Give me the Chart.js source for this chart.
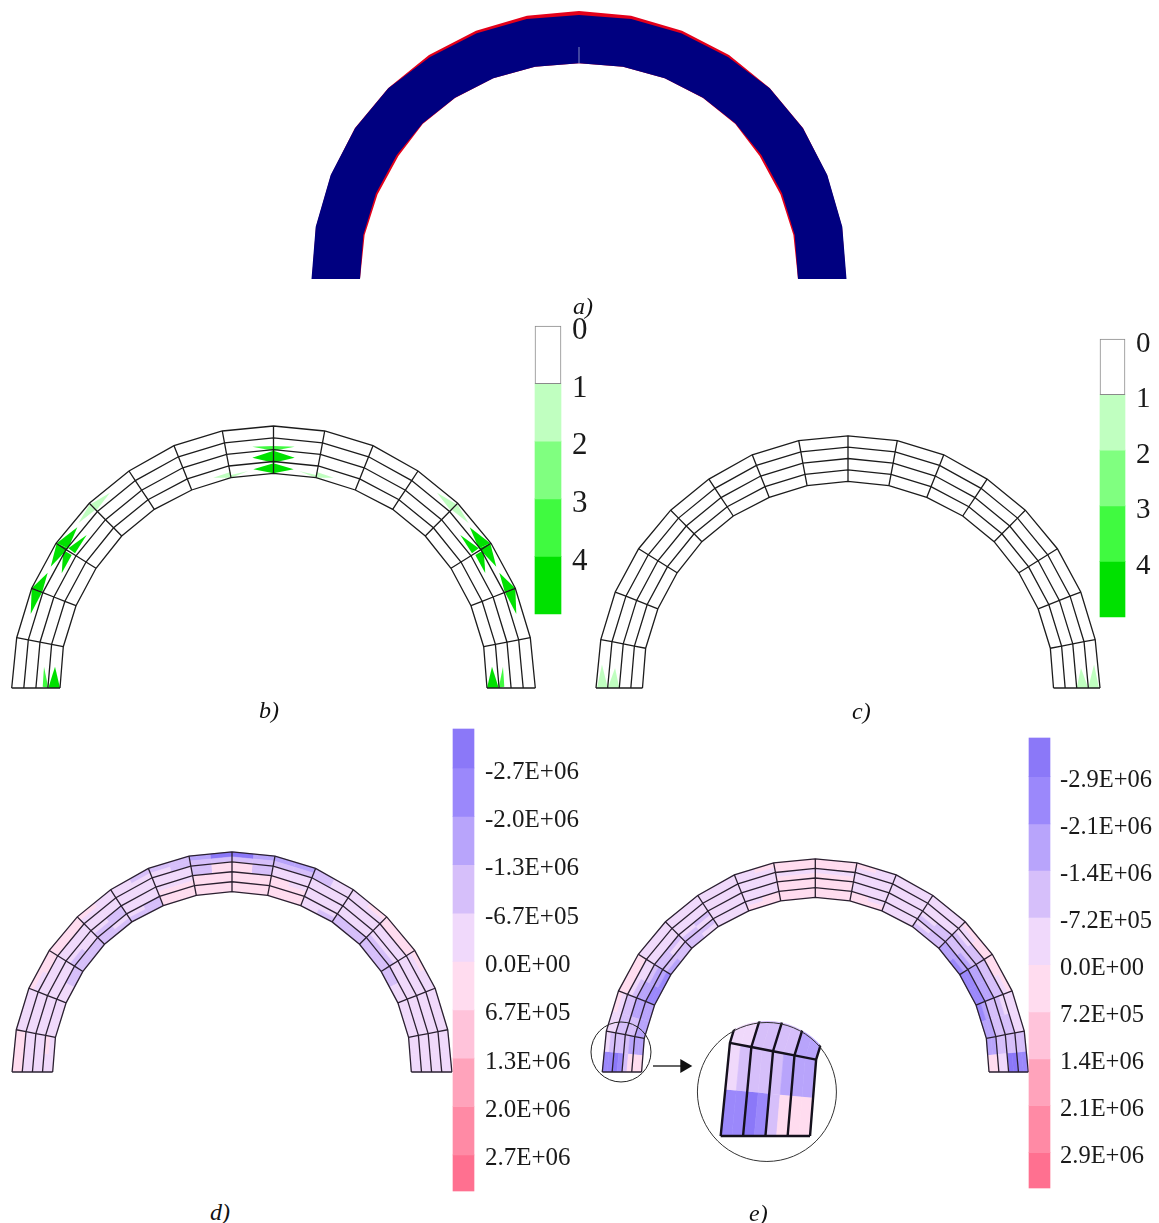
<!DOCTYPE html>
<html>
<head>
<meta charset="utf-8">
<script src="https://cdn.jsdelivr.net/npm/chart.js@4/dist/chart.umd.js"></script>
<style>
  body { margin: 0; background: #fff; width: 1159px; height: 1223px; position: relative; overflow: hidden; }
  canvas { position: absolute; }
  .cap { position: absolute; font: italic 24px "Liberation Serif"; color: #111; line-height: 26px; }
</style>
</head>
<body>
<script>
// mesh nodes of the left half of the arch, base to crown
const ring0 = [[-261.8,0],[-256.8,50.3],[-241.8,99.7],[-217.5,144.7],[-184.2,184.7],[-144.5,217],[-99.5,242.3],[-51.2,257],[0,262]];
const ring1 = [[-249.7,0],[-245.2,48.1],[-230.7,95.4],[-207.5,138.4],[-176.1,176.5],[-138.2,207.4],[-95.1,231.2],[-49,245.2],[0,250.2]];
const ring2 = [[-237.6,0],[-233.5,45.8],[-219.6,91],[-197.5,132.2],[-168,168.3],[-131.9,197.8],[-90.7,220.2],[-46.9,233.7],[0,238.4]];
const ring3 = [[-225.6,0],[-221.9,43.6],[-208.6,86.7],[-187.5,126],[-159.9,160.2],[-125.5,188.3],[-86.2,209.1],[-44.7,222],[0,226.5]];
const ring4 = [[-213.5,0],[-210.2,41.3],[-197.5,82.3],[-177.5,119.7],[-151.8,152],[-119.2,178.7],[-81.8,198],[-42.5,210.3],[0,214.7]];

// panel a, deformed shape over the reference shape
const blueOuter = [[-267.5,0],[-263.3,52.3],[-248.3,104],[-224,150.7],[-190.7,190.7],[-149,222],[-102.3,245.7],[-52.3,260],[0,264]];
const blueInner = [[-219,0],[-215.7,44],[-203,85.7],[-182.3,124],[-156.3,155.7],[-124,181.3],[-85.7,200.7],[-44,212.3],[0,215.7]];
const redOuter = [[-267,0],[-263,52],[-248,104],[-224,151],[-190.7,191],[-150,224],[-103,248.3],[-52,263.3],[0,268]];
const redInner = [[-219,0],[-214.4,44],[-201.5,84.6],[-180.6,123],[-156.3,155],[-124,181],[-85.7,200.7],[-44,212.3],[0,215.7]];

// legend bands
const greenColors = ['#ffffff', '#c0ffc0', '#80ff80', '#40fa40', '#00e100'];
const stressColors = ['#8b78f8', '#9b88fb', '#b8a4fb', '#d6bffa', '#f0d9fb', '#ffdcef', '#ffc3da', '#ffa3bb', '#ff8aa5', '#ff7090'];
const damageEdges = [0, 1, 2, 3, 4, 5];
const damageTicks = [0, 1, 2, 3, 4];
const damageLabels = ['0', '1', '2', '3', '4'];
const edgesD = [-3.22e6, -2.68e6, -2.01e6, -1.34e6, -6.7e5, 0, 6.7e5, 1.34e6, 2.01e6, 2.68e6, 3.18e6];
const labelsD = ['-2.7E+06', '-2.0E+06', '-1.3E+06', '-6.7E+05', '0.0E+00', '6.7E+05', '1.3E+06', '2.0E+06', '2.7E+06'];
const edgesE = [-3.46e6, -2.87e6, -2.15e6, -1.44e6, -7.2e5, 0, 7.2e5, 1.44e6, 2.15e6, 2.87e6, 3.41e6];
const labelsE = ['-2.9E+06', '-2.1E+06', '-1.4E+06', '-7.2E+05', '0.0E+00', '7.2E+05', '1.4E+06', '2.1E+06', '2.9E+06'];

// stress band per sub cell: 8 rows outer to inner, 2 digits per element, left base to right base
const fieldD = [
  '55 44 55 55 54 43 33 20 02 22 34 45 55 54 44 44',
  '55 44 45 55 44 44 43 33 33 33 34 44 55 44 44 44',
  '44 44 44 44 44 44 44 35 53 44 44 44 44 44 44 44',
  '44 44 44 44 44 44 44 35 53 44 44 44 44 44 44 44',
  '44 44 44 44 43 44 44 55 55 54 44 44 44 44 44 44',
  '44 44 44 34 33 44 55 55 55 55 44 44 33 44 44 44',
  '45 44 43 33 34 43 55 55 55 55 44 33 33 34 44 44',
  '44 44 43 33 33 33 55 55 55 55 43 33 33 34 44 44'
];
const fieldE = [
  '14 45 55 44 44 44 45 55 55 54 44 44 55 55 44 31',
  '13 44 55 44 44 44 44 55 55 44 44 44 45 54 44 31',
  '03 33 44 44 44 44 44 44 44 44 44 44 43 33 43 30',
  '13 33 34 44 44 44 44 55 55 44 44 44 33 33 33 30',
  '33 32 23 33 43 44 44 55 55 44 44 43 33 22 33 34',
  '52 32 22 34 34 44 44 55 55 44 44 33 32 22 33 34',
  '52 22 12 33 33 44 45 55 55 54 44 43 22 11 22 25',
  '52 22 11 23 34 44 55 55 55 55 44 33 21 11 12 25'
];

// damage wedges of panel b (left half, mirrored to the right), first number is the band
const wedgesB = [
  [4, [-225.2,0],[-218.5,21.3],[-213.5,0]],
  [3, [-230.8,1.3],[-229.5,21.3],[-225.2,0]],
  [4, [-241.8,99.7],[-225.8,115.3],[-231.2,96.3]],
  [4, [-241.8,99.7],[-231.2,96.3],[-242.8,74]],
  [4, [-216.8,144.7],[-196.2,160.7],[-205.2,139.7]],
  [4, [-216.8,144.7],[-205.2,139.7],[-222.8,121.3]],
  [4, [-205.2,139.7],[-186.8,153],[-198.5,134.7]],
  [4, [-210.2,138],[-201.8,133],[-211.8,114.7]],
  [1, [-184.2,183],[-163.5,195.3],[-176.8,178]],
  [1, [-184.2,183],[-178.5,178],[-195.2,164.7]],
  [3, [-21.2,241.3],[0,242],[0,237.3]],
  [4, [-21.2,230.3],[0,237.3],[0,225.3]],
  [4, [-20.2,218.7],[0,224.7],[0,214.7]],
  [1, [-60.2,210.3],[-42.5,216.3],[-42.5,210.3]],
  [1, [-42.5,213],[-25.2,217],[-42.5,210.3]]
];
const wedgesC = [
  [1, [-260.7,0],[-255.6,24.4],[-249.5,0]],
  [1, [-249.5,0],[-242,20.8],[-237.6,0]]
];

const mirror = half => half.concat(half.slice(0, -1).reverse().map(p => [-p[0], p[1]]));
const rings = [ring0, ring1, ring2, ring3, ring4].map(mirror);
const pts = list => list.map(p => ({x: p[0], y: p[1]}));

function polygon(list, color, edge) {
  return {data: pts(list), showLine: true, fill: 'shape', tension: 0, pointRadius: 0,
    backgroundColor: color, borderColor: color, borderWidth: edge || 0};
}

function polyline(list, color, width) {
  return {data: pts(list), showLine: true, fill: false, tension: 0, pointRadius: 0,
    borderColor: color, borderWidth: width};
}

// mesh position at arc station a and radial depth t
function meshPoint(a, t) {
  const s = Math.min(Math.floor(a), 15), r = Math.min(Math.floor(t), 3);
  const fa = a - s, ft = t - r;
  const top = [0, 1].map(i => rings[r][s][i] * (1 - fa) + rings[r][s + 1][i] * fa);
  const low = [0, 1].map(i => rings[r + 1][s][i] * (1 - fa) + rings[r + 1][s + 1][i] * fa);
  return [top[0] * (1 - ft) + low[0] * ft, top[1] * (1 - ft) + low[1] * ft];
}

function meshLines(color, width) {
  const out = rings.map(r => polyline(r, color, width));
  for (let s = 0; s <= 16; s++) {
    out.push(polyline(rings.map(r => r[s]), color, width));
  }
  return out;
}

function fieldCells(field) {
  const out = [];
  field.forEach((raw, row) => {
    const cells = raw.replace(/ /g, '');
    for (let c = 0; c < cells.length; c++) {
      const a0 = c / 2, a1 = (c + 1) / 2, t0 = row / 2, t1 = (row + 1) / 2;
      out.push(polygon([meshPoint(a0, t0), meshPoint(a1, t0), meshPoint(a1, t1), meshPoint(a0, t1)],
        stressColors[+cells[c]], 0.6));
    }
  });
  return out;
}

function wedgeCells(wedges) {
  const out = [];
  wedges.forEach(w => {
    const shape = w.slice(1);
    out.push(polygon(shape, greenColors[w[0]]));
    out.push(polygon(shape.map(p => [-p[0], p[1]]), greenColors[w[0]]));
  });
  return out;
}

function addCanvas(left, top, width, height) {
  const cv = document.createElement('canvas');
  cv.width = width;
  cv.height = height;
  cv.style.left = left + 'px';
  cv.style.top = top + 'px';
  cv.style.width = width + 'px';
  cv.style.height = height + 'px';
  document.body.appendChild(cv);
  return cv;
}

// box is the canvas on the page, cx/baseY/k place the arch units on it
// datasets come in paint order, chart.js paints the first one last so they get reversed
function archChart(box, cx, baseY, k, datasets) {
  const cv = addCanvas(box[0], box[1], box[2], box[3]);
  new Chart(cv, {
    type: 'scatter',
    data: {datasets: datasets.slice().reverse()},
    options: {
      responsive: false, animation: false, events: [],
      layout: {padding: 0, autoPadding: false},
      plugins: {legend: {display: false}, tooltip: {enabled: false}},
      scales: {
        x: {display: false, min: (box[0] - cx) / k, max: (box[0] + box[2] - cx) / k},
        y: {display: false, min: (baseY - box[1] - box[3]) / k, max: (baseY - box[1]) / k}
      }
    }
  });
  return cv;
}

// colour bar: one floating bar per band, tick labels on the band edges
function legendBar(left, top, barW, barH, labelW, colors, edges, ticks, labels, gap, shift, size) {
  const pad = 20;
  const cv = addCanvas(left - 1, top - pad, barW + labelW + 1, barH + pad * 2);
  const sets = colors.map((c, i) => ({
    data: [[edges[i], edges[i + 1]]],
    backgroundColor: c,
    borderColor: c === '#ffffff' ? '#8a8a8a' : c,
    borderWidth: c === '#ffffff' ? 1 : 0,
    borderSkipped: false,
    clip: false,
    categoryPercentage: 1,
    barPercentage: 1
  }));
  new Chart(cv, {
    type: 'bar',
    data: {labels: ['band'], datasets: sets},
    options: {
      responsive: false, animation: false, events: [],
      layout: {padding: {top: pad, bottom: pad, left: 1, right: 0}, autoPadding: false},
      plugins: {legend: {display: false}, tooltip: {enabled: false}},
      scales: {
        x: {display: false, stacked: true},
        y: {
          position: 'right', reverse: true,
          min: edges[0], max: edges[edges.length - 1],
          grid: {display: false, drawTicks: false}, border: {display: false},
          afterBuildTicks: axis => { axis.ticks = ticks.map(v => ({value: v})); },
          afterFit: axis => { axis.width = labelW; axis.paddingTop = 0; axis.paddingBottom = 0; },
          ticks: {
            autoSkip: false, maxRotation: 0, padding: gap, labelOffset: shift, color: '#1a1a1a',
            font: {family: 'Liberation Serif', size: size},
            callback: (v, i) => labels[i]
          }
        }
      }
    }
  });
}

function caption(text, x, y) {
  const d = document.createElement('div');
  d.className = 'cap';
  d.textContent = text;
  d.style.left = x + 'px';
  d.style.top = y + 'px';
  document.body.appendChild(d);
}

// a) deformed arch
const crack = polyline([[0, 216], [0, 232]], '#8088c0', 1);
archChart([300, 0, 560, 290], 579, 279, 1, [
  polygon(mirror(redOuter).concat(mirror(redInner).reverse()), '#e4001a'),
  polygon(mirror(blueOuter).concat(mirror(blueInner).reverse()), '#000080'),
  crack
]);

// b) and c) damage maps
archChart([0, 415, 540, 285], 273.5, 688, 1, wedgeCells(wedgesB).concat(meshLines('#1c1c1c', 1.3)));
archChart([585, 425, 522, 275], 848, 688, 0.9626, wedgeCells(wedgesC).concat(meshLines('#1c1c1c', 1.3)));

// d) and e) stress maps
archChart([0, 840, 456, 245], 232, 1072, 0.84, fieldCells(fieldD).concat(meshLines('#2a2030', 1.3)));

const lens = {data: [{x: -238.8, y: 24.6}], pointRadius: 30, pointStyle: 'circle',
  pointBackgroundColor: 'rgba(0,0,0,0)', pointBorderColor: '#222', pointBorderWidth: 1, showLine: false};
const arrow = {data: [{x: -199.5, y: 7.4}, {x: -161, y: 7.4}], showLine: true, borderColor: '#333', borderWidth: 1.3,
  pointStyle: 'triangle', pointRadius: [0, 8], pointRotation: 90, pointBackgroundColor: '#111', pointBorderWidth: 0};
archChart([585, 850, 446, 240], 815.3, 1072, 0.8137,
  fieldCells(fieldE).concat(meshLines('#2a2030', 1.3), [lens, arrow]));

// magnified corner of e)
const lensBig = {data: [{x: -236.8, y: 23.8}], pointRadius: 69.5, pointStyle: 'circle',
  pointBackgroundColor: 'rgba(0,0,0,0)', pointBorderColor: '#333', pointBorderWidth: 1, showLine: false};
const inset = archChart([696, 1021, 142, 142], 1205, 1136, 1.85,
  fieldCells(fieldE).concat(meshLines('#14101c', 2.4), [lensBig]));
inset.style.clipPath = 'circle(50%)';

// colour bars
legendBar(535, 326, 26, 288, 60, greenColors, damageEdges, damageTicks, damageLabels, 11, 5, 31);
legendBar(1100, 339, 25, 278, 33, greenColors, damageEdges, damageTicks, damageLabels, 11, 5, 29);
legendBar(453, 729, 21, 462, 120, stressColors, edgesD, edgesD.slice(1, -1), labelsD, 11, 4, 25);
legendBar(1029, 738, 21, 450, 109, stressColors, edgesE, edgesE.slice(1, -1), labelsE, 10, 4, 24.5);

caption('a)', 573, 293);
caption('b)', 259, 697);
caption('c)', 852, 698);
caption('d)', 210, 1199);
caption('e)', 749, 1200);
</script>
</body>
</html>
